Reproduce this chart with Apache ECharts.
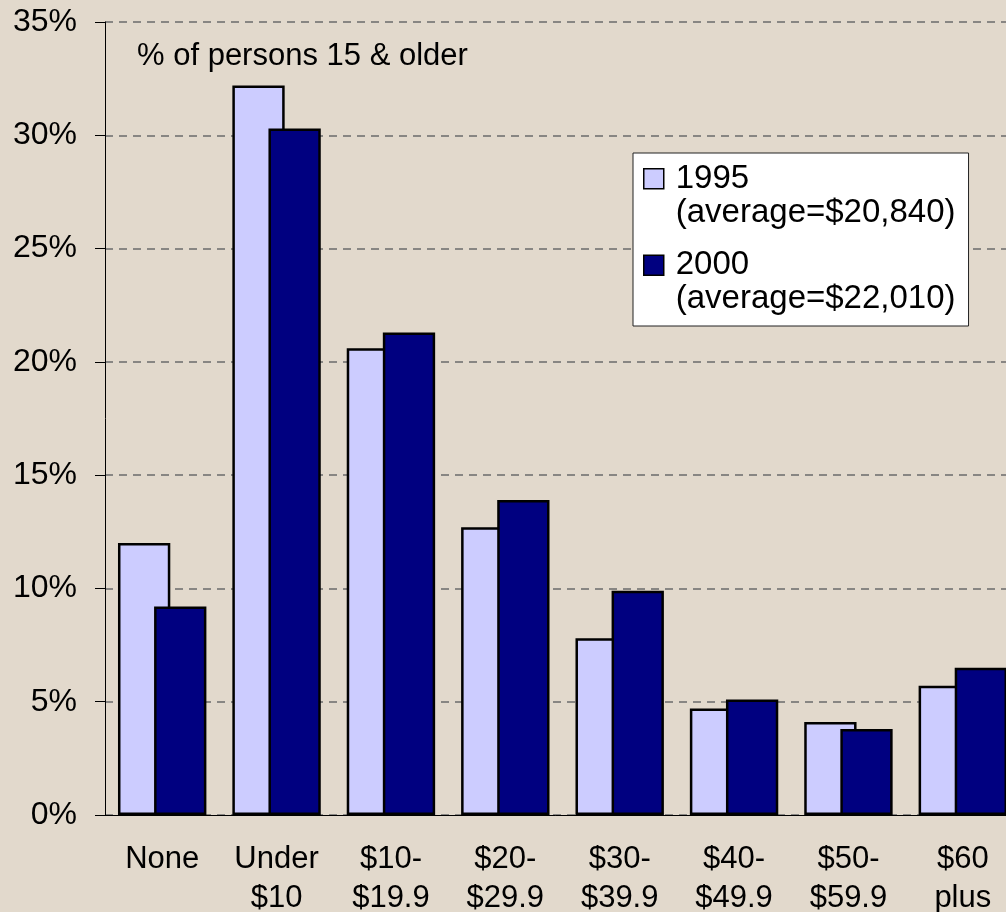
<!DOCTYPE html>
<html>
<head>
<meta charset="utf-8">
<title>Income distribution</title>
<script src="https://cdn.jsdelivr.net/npm/echarts@6/dist/echarts.min.js"></script>
<style>
  html, body { margin: 0; padding: 0; background: #e2d9cc; }
  #chart { width: 1006px; height: 912px; }
</style>
</head>
<body>
<div id="chart"></div>
<script>
// income brackets (thousands)
const categories = ['None', 'Under\n$10', '$10-\n$19.9', '$20-\n$29.9', '$30-\n$39.9', '$40-\n$49.9', '$50-\n$59.9', '$60\nplus']
const years = ['1995', '2000']
const averages = ['(average=$20,840)', '(average=$22,010)']
// % of persons 15 & older
const values1995 = [12.0, 32.2, 20.6, 12.7, 7.8, 4.7, 4.1, 5.7]
const values2000 = [9.2, 30.3, 21.3, 13.9, 9.9, 5.1, 3.8, 6.5]
const yTicks = [0, 5, 10, 15, 20, 25, 30, 35]

const font = 'Liberation Sans, Arial, sans-serif'
const chart = echarts.init(document.getElementById('chart'))

const option = {
  backgroundColor: '#e2d9cc',
  animation: false,
  title: {
    text: '% of persons 15 & older',
    left: 137,
    top: 41,
    padding: 0,
    textStyle: { fontFamily: font, fontSize: 31, fontWeight: 'normal', color: '#000' },
  },
  legend: {
    orient: 'vertical',
    left: 633,
    top: 153,
    padding: [8, 13, 9, 10],
    itemGap: 17,
    itemWidth: 27,
    itemHeight: 68,
    // square sits beside the first text line
    icon: 'path://M0,0 M27,68 M0,7 L20,7 L20,27 L0,27 Z',
    backgroundColor: '#fff',
    borderColor: '#222',
    borderWidth: 1,
    borderRadius: 0,
    data: years,
    formatter: (name) => name + '\n' + averages[years.indexOf(name)],
    itemStyle: { borderColor: '#000', borderWidth: 1.5 },
    textStyle: { fontFamily: font, fontSize: 33, lineHeight: 34, color: '#000' },
  },
  grid: {
    left: 105,
    width: 915, // last category runs past the right edge, as in the source
    top: 22,
    bottom: 97,
    containLabel: false,
    outerBoundsMode: 'none',
  },
  xAxis: {
    type: 'category',
    data: categories,
    axisLine: { lineStyle: { color: '#000', width: 1 } },
    axisTick: { length: 9, lineStyle: { color: '#000' } },
    axisLabel: {
      margin: 25,
      fontFamily: font,
      fontSize: 31,
      lineHeight: 39,
      color: '#000',
      interval: 0,
    },
  },
  yAxis: {
    type: 'value',
    min: yTicks[0],
    max: yTicks[yTicks.length - 1],
    interval: 5,
    axisLine: { show: true, lineStyle: { color: '#000', width: 1 } },
    axisTick: { show: true, length: 10, lineStyle: { color: '#000' } },
    axisLabel: {
      margin: 28,
      formatter: '{value}%',
      fontFamily: font,
      fontSize: 32,
      color: '#000',
    },
    splitLine: {
      lineStyle: { color: '#6b6b6b', width: 1.5, type: [8, 6] },
    },
  },
  series: [
    {
      name: years[0],
      type: 'bar',
      data: values1995,
      barGap: '-31%',
      barCategoryGap: '22.7%',
      itemStyle: { color: '#ccccff', borderColor: '#000', borderWidth: 2.5 },
    },
    {
      name: years[1],
      type: 'bar',
      data: values2000,
      itemStyle: { color: '#000080', borderColor: '#000', borderWidth: 2.5 },
    },
  ],
}

chart.setOption(option)
</script>
</body>
</html>
